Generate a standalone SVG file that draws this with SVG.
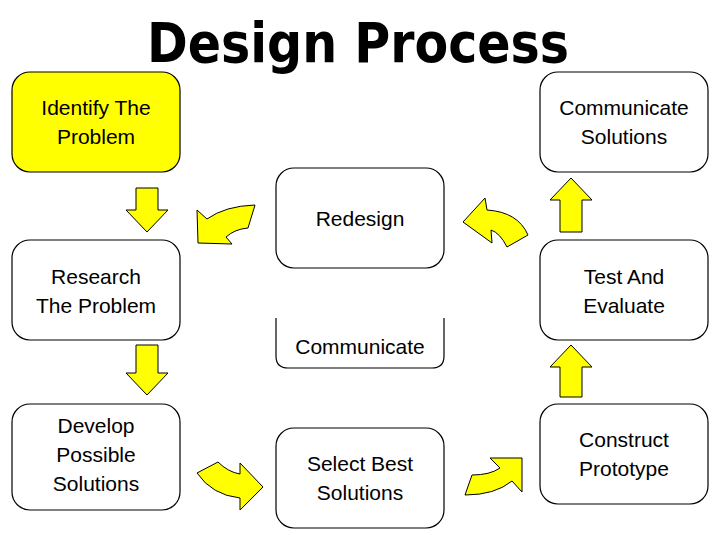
<svg xmlns="http://www.w3.org/2000/svg" width="720" height="540" viewBox="0 0 720 540">
<style>
.box{fill:#fff;stroke:#000;stroke-width:1.2}
.t{font-family:"Liberation Sans",Arial,sans-serif;font-size:21px;text-anchor:middle;fill:#000;font-weight:500}
.ar{fill:#ffff00;stroke:#000;stroke-width:1}
</style>
<rect width="720" height="540" fill="#fff"/>
<text x="358" y="62" font-family="DejaVu Sans,sans-serif" font-weight="bold" font-size="56" text-anchor="middle" textLength="422" lengthAdjust="spacingAndGlyphs">Design Process</text>
<g id="identify"><rect class="box" x="12" y="72" width="168" height="100" rx="18" style="fill:#ffff00"/><text class="t" x="96" y="115">Identify The</text><text class="t" x="96" y="144">Problem</text></g>
<g id="communicate-solutions"><rect class="box" x="540" y="72" width="168" height="100" rx="18"/><text class="t" x="624" y="115">Communicate</text><text class="t" x="624" y="144">Solutions</text></g>
<g id="redesign"><rect class="box" x="276" y="168" width="168" height="100" rx="18"/><text class="t" x="360" y="226">Redesign</text></g>
<g id="research"><rect class="box" x="12" y="240" width="168" height="100" rx="18"/><text class="t" x="96" y="284">Research</text><text class="t" x="96" y="313">The Problem</text></g>
<g id="test"><rect class="box" x="540" y="240" width="168" height="100" rx="18"/><text class="t" x="624" y="284">Test And</text><text class="t" x="624" y="313">Evaluate</text></g>
<g id="communicate"><path class="box" d="M276,318 V356 Q276,368 288,368 H432 Q444,368 444,356 V318"/><text class="t" x="360" y="354">Communicate</text></g>
<g id="develop"><rect class="box" x="12" y="404" width="168" height="106" rx="18"/><text class="t" x="96" y="433">Develop</text><text class="t" x="96" y="462">Possible</text><text class="t" x="96" y="491">Solutions</text></g>
<g id="select"><rect class="box" x="276" y="428" width="168" height="100" rx="18"/><text class="t" x="360" y="471">Select Best</text><text class="t" x="360" y="500">Solutions</text></g>
<g id="construct"><rect class="box" x="540" y="404" width="168" height="100" rx="18"/><text class="t" x="624" y="447">Construct</text><text class="t" x="624" y="476">Prototype</text></g>
<g id="connectors">
<path class="ar" d="M136,188 H158 V210 H168 L147,232 L126,210 H136 Z"/>
<path class="ar" d="M136,345 H158 V373 H168 L147,395 L126,373 H136 Z"/>
<path class="ar" d="M560,232 H582 V200 H592 L571,178 L550,200 H560 Z"/>
<path class="ar" d="M560,397 H582 V367 H592 L571,345 L550,367 H560 Z"/>
<path class="ar" d="M255,205 L248,228 Q235,229 226,237 L232,244 L198,243 L197,210 L207,219 Q225,206 255,205 Z"/>
<path class="ar" d="M463,222 L485,198 L487,210 Q518,212 528,235 L507,247 Q500,233 491,230 L492,243 Z"/>
<path class="ar" d="M197,473 L218,462 Q228,472 240,474 L240,463 L263,487 L240,510 L240,498 Q212,495 197,473 Z"/>
<path class="ar" d="M465,495 L472,475 Q490,475 500,468 L490,458 L522,458 L522,492 L512,481 Q495,495 465,495 Z"/>
</g>
</svg>
